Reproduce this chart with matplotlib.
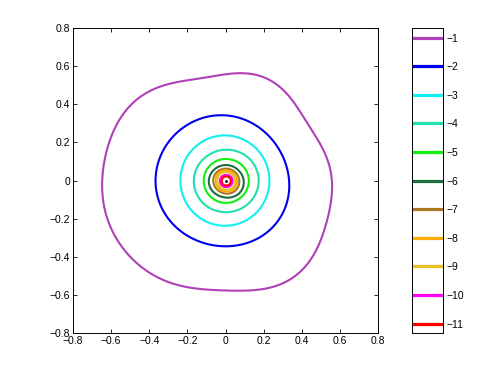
import numpy as np
import matplotlib
matplotlib.use("Agg")
import matplotlib.pyplot as plt
from matplotlib.patches import Polygon

plt.rcParams['font.family'] = ['Liberation Sans', 'DejaVu Sans']

# contour levels and colours
levels = [-1, -2, -3, -4, -5, -6, -7, -8, -9, -10, -11]
colors = ['#b040b8', '#0000ee', '#10f0f0', '#20e0b0', '#10f010', '#1e6e3c',
          '#aa7722', '#ffaa00', '#e8c020', '#ff00ff', '#ff0000']

# outer contours, points
c1_x = [0.559, 0.538, 0.494, 0.442, 0.407, 0.354, 0.284, 0.197, 0.075, -0.100,
        -0.258, -0.398, -0.485, -0.555, -0.608, -0.634, -0.643, -0.625, -0.572,
        -0.485, -0.363, -0.223, -0.050, 0.144, 0.284, 0.389, 0.459, 0.512, 0.547]
c1_y = [0.005, 0.110, 0.198, 0.268, 0.337, 0.425, 0.495, 0.539, 0.561, 0.547,
        0.513, 0.469, 0.408, 0.320, 0.215, 0.110, -0.045, -0.187, -0.310,
        -0.414, -0.502, -0.555, -0.578, -0.572, -0.546, -0.484, -0.397, -0.275, -0.135]

c2_x = [0.328, 0.320, 0.284, 0.232, 0.162, 0.075, 0.022, -0.100, -0.188, -0.258,
        -0.310, -0.345, -0.354, -0.345, -0.310, -0.240, -0.135, -0.013, 0.144,
        0.232, 0.293, 0.320]
c2_y = [0.005, 0.075, 0.163, 0.232, 0.294, 0.329, 0.334, 0.324, 0.303, 0.259,
        0.198, 0.110, -0.030, -0.100, -0.205, -0.274, -0.318, -0.331, -0.318,
        -0.274, -0.187, -0.100]

c3_x = [0.223, 0.197, 0.144, 0.075, -0.030, -0.135, -0.205, -0.231, -0.223,
        -0.188, -0.118, 0.005, 0.092, 0.171, 0.215]
c3_y = [0.005, 0.127, 0.189, 0.224, 0.229, 0.198, 0.127, 0.005, -0.082,
        -0.152, -0.205, -0.231, -0.219, -0.169, -0.082]

# inner contours: radius at 0, 45, ..., 315 degrees
inner_r = [
    [0.170, 0.168, 0.164, 0.166, 0.170, 0.168, 0.164, 0.166],
    [0.118, 0.117, 0.115, 0.118, 0.118, 0.117, 0.115, 0.116],
    [0.090, 0.086, 0.082, 0.088, 0.090, 0.090, 0.086, 0.095],
    [0.068, 0.066, 0.064, 0.068, 0.068, 0.066, 0.066, 0.070],
    [0.056, 0.054, 0.055, 0.057, 0.056, 0.054, 0.055, 0.057],
    [0.047, 0.046, 0.047, 0.048, 0.047, 0.046, 0.046, 0.048],
    [0.033, 0.033, 0.032, 0.033, 0.033, 0.033, 0.032, 0.033],
    [0.024, 0.024, 0.024, 0.024, 0.024, 0.024, 0.024, 0.024],
]
inner_cx, inner_cy = 0.004, -0.002

ticks = [-0.8, -0.6, -0.4, -0.2, 0, 0.2, 0.4, 0.6, 0.8]
tick_labels = ['\u22120.8', '\u22120.6', '\u22120.4', '\u22120.2', '0',
               '0.2', '0.4', '0.6', '0.8']


def smooth_closed(x, y, k, cx=0.0, cy=0.0):
    # least-squares Fourier fit of r(theta) through the read points
    x = np.asarray(x) - cx
    y = np.asarray(y) - cy
    th = np.arctan2(y, x)
    r = np.hypot(x, y)
    def basis(a):
        cols = [np.ones_like(a)]
        for j in range(1, k + 1):
            cols += [np.cos(j * a), np.sin(j * a)]
        return np.column_stack(cols)
    coef = np.linalg.lstsq(basis(th), r, rcond=None)[0]
    a = np.linspace(0, 2 * np.pi, 400, endpoint=False)
    rr = basis(a) @ coef
    return np.column_stack([cx + rr * np.cos(a), cy + rr * np.sin(a)])


fig = plt.figure(figsize=(5, 3.75), dpi=100)
ax = fig.add_axes([0.146, 0.112, 0.610, 0.813])

ang = np.linspace(0, 2 * np.pi, 8, endpoint=False)
curves = [smooth_closed(c1_x, c1_y, 6), smooth_closed(c2_x, c2_y, 3),
          smooth_closed(c3_x, c3_y, 2)]
for r in inner_r:
    r = np.asarray(r)
    curves.append(smooth_closed(inner_cx + r * np.cos(ang),
                                inner_cy + r * np.sin(ang), 3,
                                inner_cx, inner_cy))

for pts, col in zip(curves, colors):
    ax.add_patch(Polygon(pts, closed=True, fill=False, edgecolor=col, lw=1.5))

ax.plot([inner_cx], [inner_cy], 'k.', ms=2)

ax.set_xlim(-0.8, 0.8)
ax.set_ylim(-0.8, 0.8)
ax.set_xticks(ticks)
ax.set_xticklabels(tick_labels)
ax.set_yticks(ticks)
ax.set_yticklabels(tick_labels)
ax.tick_params(direction='in', top=True, right=True, length=3, width=0.6,
               labelsize=7.5, pad=2)
for s in ax.spines.values():
    s.set_linewidth(0.7)

# colour legend bar
cax = fig.add_axes([0.824, 0.112, 0.061, 0.813])
for lev, col in zip(levels, colors):
    cax.plot([0, 1], [lev, lev], color=col, lw=2.3)
cax.set_xlim(0, 1)
cax.set_ylim(-11.33, -0.67)
cax.set_xticks([])
cax.yaxis.tick_right()
cax.set_yticks(levels)
cax.tick_params(length=0, labelsize=7.5, pad=3)
for s in cax.spines.values():
    s.set_linewidth(0.7)

fig.savefig('out.png', dpi=100)
